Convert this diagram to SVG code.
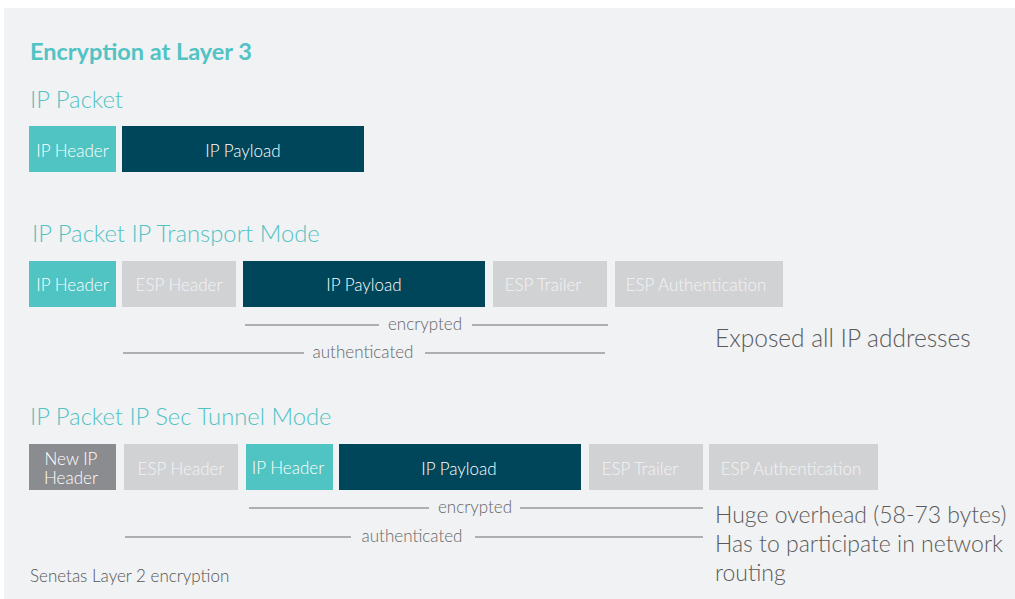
<svg xmlns="http://www.w3.org/2000/svg" width="1015" height="599" viewBox="0 0 1015 599">
<style>
.bg{fill:#f1f2f4}
.teal{fill:#50c3c3}
.dark{fill:#00465a}
.gray{fill:#d1d2d4}
.dgray{fill:#8b8c90}
.bt{font-family:Lato,"Open Sans",sans-serif;font-weight:300;font-size:17px;fill:#ffffff;text-anchor:middle}
.bt2{font-family:Lato,"Open Sans",sans-serif;font-weight:300;font-size:17px;fill:#f4f4f4;text-anchor:middle}
.h{font-family:Lato,"Open Sans",sans-serif;font-weight:300;font-size:23.8px;fill:#52c3c4}
.title{font-family:Lato,"Open Sans",sans-serif;font-weight:700;font-size:23.5px;fill:#52c3c4}
.lbl{font-family:Lato,"Open Sans",sans-serif;font-weight:300;font-size:17px;fill:#666;text-anchor:middle}
.note{font-family:Lato,"Open Sans",sans-serif;font-weight:300;font-size:24.5px;fill:#5a5a5a}
.note2{font-family:Lato,"Open Sans",sans-serif;font-weight:300;font-size:23px;fill:#5a5a5a}
.small{font-family:Lato,"Open Sans",sans-serif;font-weight:300;font-size:17px;fill:#555}
.ln{stroke:#999;stroke-width:1.5;fill:none}
</style>
<rect width="1015" height="599" fill="#ffffff"/>
<rect class="bg" x="4" y="8" width="1011" height="591"/>
<text class="title" x="30" y="60">Encryption at Layer 3</text>
<text class="h" x="30" y="108">IP Packet</text>
<g id="r1-ipheader"><rect class="teal" x="29" y="126" width="87" height="46"/><text class="bt" x="72.5" y="157">IP Header</text></g>
<g id="r1-payload"><rect class="dark" x="122" y="126" width="242" height="46"/><text class="bt" x="243" y="157">IP Payload</text></g>

<text class="h" x="32" y="242">IP Packet IP Transport Mode</text>
<g id="r2-ipheader"><rect class="teal" x="29" y="261" width="87" height="46"/><text class="bt" x="72.5" y="291">IP Header</text></g>
<g id="r2-espheader"><rect class="gray" x="122" y="261" width="114" height="46"/><text class="bt2" x="179" y="291">ESP Header</text></g>
<g id="r2-payload"><rect class="dark" x="243" y="261" width="242" height="46"/><text class="bt" x="364" y="291">IP Payload</text></g>
<g id="r2-esptrailer"><rect class="gray" x="493" y="261" width="114" height="46"/><text class="bt2" x="543" y="291">ESP Trailer</text></g>
<g id="r2-espauth"><rect class="gray" x="615" y="261" width="168" height="46"/><text class="bt2" x="696" y="291">ESP Authentication</text></g>

<text class="h" x="30" y="425">IP Packet IP Sec Tunnel Mode</text>
<g id="r3-newip"><rect class="dgray" x="29" y="444" width="87" height="46"/><text class="bt" x="71" y="465">New IP</text><text class="bt" x="71" y="484">Header</text></g>
<g id="r3-espheader"><rect class="gray" x="124" y="444" width="114" height="46"/><text class="bt2" x="181" y="475">ESP Header</text></g>
<g id="r3-ipheader"><rect class="teal" x="246" y="444" width="87" height="46"/><text class="bt" x="288" y="474">IP Header</text></g>
<g id="r3-payload"><rect class="dark" x="339" y="444" width="242" height="46"/><text class="bt" x="459" y="475">IP Payload</text></g>
<g id="r3-esptrailer"><rect class="gray" x="589" y="444" width="114" height="46"/><text class="bt2" x="640" y="475">ESP Trailer</text></g>
<g id="r3-espauth"><rect class="gray" x="709" y="444" width="169" height="46"/><text class="bt2" x="791" y="475">ESP Authentication</text></g>

<g id="connectors">
<line class="ln" x1="245" y1="325" x2="379" y2="325"/>
<line class="ln" x1="472" y1="325" x2="608" y2="325"/>
<line class="ln" x1="123" y1="353" x2="304" y2="353"/>
<line class="ln" x1="425" y1="353" x2="605" y2="353"/>
<line class="ln" x1="249" y1="508" x2="429" y2="508"/>
<line class="ln" x1="520" y1="508" x2="703" y2="508"/>
<line class="ln" x1="125" y1="537" x2="351" y2="537"/>
<line class="ln" x1="475" y1="537" x2="703" y2="537"/>
</g>
<text class="lbl" x="425" y="330">encrypted</text>
<text class="lbl" x="363" y="358">authenticated</text>
<text class="lbl" x="475" y="513">encrypted</text>
<text class="lbl" x="412" y="542">authenticated</text>

<text class="note" x="715" y="347">Exposed all IP addresses</text>
<text class="note2" x="715" y="523">Huge overhead (58-73 bytes)</text>
<text class="note2" x="715" y="552">Has to participate in network</text>
<text class="note2" x="715" y="581">routing</text>
<text class="small" x="30" y="582">Senetas Layer 2 encryption</text>
</svg>
